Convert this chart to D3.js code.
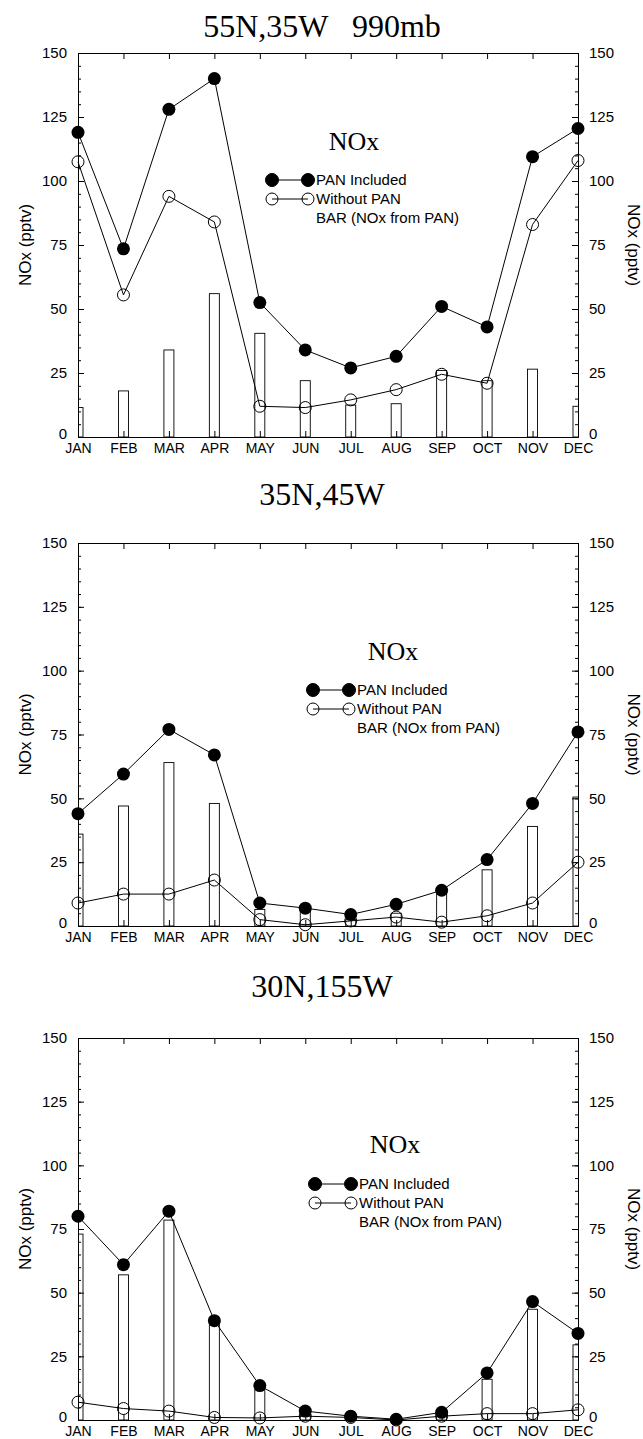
<!DOCTYPE html>
<html>
<head>
<meta charset="utf-8">
<script src="https://cdn.jsdelivr.net/npm/d3@7"></script>
<style>
  body { margin: 0; background: #fff; }
  svg { display: block; }
</style>
</head>
<body>
<div class="chart"></div>
<script>
var months = ["JAN","FEB","MAR","APR","MAY","JUN","JUL","AUG","SEP","OCT","NOV","DEC"];
var yTicks = [0, 25, 50, 75, 100, 125, 150];
var titles = ["55N,35W   990mb", "35N,45W", "30N,155W"];
var legendLabels = ["PAN Included", "Without PAN", "BAR (NOx from PAN)"];

// 55N,35W
var panIncluded1 = [119, 73.5, 128, 140, 52.5, 34, 27, 31.5, 51, 43, 109.5, 120.5];
var withoutPan1  = [107.5, 55.5, 94, 84, 12, 11.5, 14.5, 18.5, 24.5, 21, 83, 108];
var fromPan1     = [11.5, 18, 34, 56, 40.5, 22, 12.5, 13, 26, 22, 26.5, 12];

// 35N,45W
var panIncluded2 = [44, 59.5, 77, 67, 9, 7, 4.5, 8.5, 14, 26, 48, 76];
var withoutPan2  = [9, 12.5, 12.5, 18, 2.5, 0.5, 2, 3.5, 1.5, 4, 9, 25];
var fromPan2     = [36, 47, 64, 48, 6.5, 6.5, 2.5, 5, 12.5, 22, 39, 50.5];

// 30N,155W
var panIncluded3 = [80, 61, 82, 39, 13.5, 3.5, 1.5, 0.3, 3, 18.5, 46.5, 34];
var withoutPan3  = [7, 4.5, 3.5, 1, 0.8, 1.5, 1, 0, 1.5, 2.5, 2.5, 4];
var fromPan3     = [73, 57, 78.5, 38, 12, 2, 0.5, 0.3, 1.5, 16, 43.5, 29.5];

var series = [
  {pan: panIncluded1, without: withoutPan1, bar: fromPan1},
  {pan: panIncluded2, without: withoutPan2, bar: fromPan2},
  {pan: panIncluded3, without: withoutPan3, bar: fromPan3}
];

// layout of each panel
var panels = [
  {top: 53,   bottom: 437,  titleY: 37,  noxX: 354, noxY: 150,  legX: 272, legY: 180},
  {top: 543,  bottom: 926,  titleY: 505, noxX: 393, noxY: 660,  legX: 313, legY: 690},
  {top: 1038, bottom: 1420, titleY: 997, noxX: 395, noxY: 1153, legX: 315, legY: 1184}
];

var left = 78, right = 578;
var sans = "'Liberation Sans', Arial, sans-serif";
var serif = "'Liberation Serif', 'Times New Roman', serif";

var svg = d3.select(".chart")
  .append("svg")
  .attr("width", 643)
  .attr("height", 1439);

var x = d3.scalePoint().domain(months).range([left, right]);

function styleAxis(g, size){
  g.attr("font-family", sans).attr("font-size", size);
  g.selectAll("path, line").attr("stroke", "#000").attr("stroke-width", 1);
  g.selectAll("text").attr("fill", "#000");
}

function drawPanel(p, s, i){
  var y = d3.scaleLinear().domain([0, 150]).range([p.bottom, p.top]);
  var g = svg.append("g");

  g.append("text")
    .attr("x", 322).attr("y", p.titleY)
    .attr("text-anchor", "middle")
    .attr("font-family", serif).attr("font-size", 32)
    .style("white-space", "pre")
    .text(titles[i]);

  g.append("clipPath").attr("id", "clip" + i)
    .append("rect")
    .attr("x", left).attr("y", p.top)
    .attr("width", right - left).attr("height", p.bottom - p.top);

  // bars (NOx from PAN)
  var barW = 10;
  g.append("g").attr("clip-path", "url(#clip" + i + ")")
    .selectAll("rect")
    .data(s.bar)
    .enter()
    .append("rect")
      .attr("x", function(d, j){ return x(months[j]) - barW/2; })
      .attr("y", function(d){ return y(d); })
      .attr("width", barW)
      .attr("height", function(d){ return p.bottom - y(d); })
      .attr("fill", "none")
      .attr("stroke", "#000")
      .attr("stroke-width", 0.9);

  // axes
  var minor = d3.range(0, 151, 5);
  g.append("g").attr("transform", "translate(" + left + ",0)")
    .call(d3.axisLeft(y).tickValues(minor).tickSize(-3).tickSizeOuter(0).tickFormat(""))
    .call(styleAxis, 15);
  g.append("g").attr("transform", "translate(" + left + ",0)")
    .call(d3.axisLeft(y).tickValues(yTicks).tickSize(-6).tickSizeOuter(0).tickPadding(11))
    .call(styleAxis, 15)
    .selectAll("text").filter(function(d){ return d === 0; }).attr("dy", "0.1em");
  g.append("g").attr("transform", "translate(" + right + ",0)")
    .call(d3.axisRight(y).tickValues(minor).tickSize(-3).tickSizeOuter(0).tickFormat(""))
    .call(styleAxis, 15);
  g.append("g").attr("transform", "translate(" + right + ",0)")
    .call(d3.axisRight(y).tickValues(yTicks).tickSize(-6).tickSizeOuter(0).tickPadding(11))
    .call(styleAxis, 15)
    .selectAll("text").filter(function(d){ return d === 0; }).attr("dy", "0.1em");
  g.append("g").attr("transform", "translate(0," + p.bottom + ")")
    .call(d3.axisBottom(x).tickSize(-6).tickSizeOuter(0).tickPadding(6))
    .call(styleAxis, 14);
  g.append("g").attr("transform", "translate(0," + p.top + ")")
    .call(d3.axisTop(x).tickSize(-6).tickSizeOuter(0).tickFormat(""))
    .call(styleAxis, 14);

  var mid = (p.top + p.bottom) / 2;
  g.append("text")
    .attr("transform", "translate(31," + mid + ") rotate(-90)")
    .attr("text-anchor", "middle")
    .attr("font-family", sans).attr("font-size", 17)
    .text("NOx (pptv)");
  g.append("text")
    .attr("transform", "translate(628," + mid + ") rotate(90)")
    .attr("text-anchor", "middle")
    .attr("font-family", sans).attr("font-size", 17)
    .text("NOx (pptv)");

  // lines
  var line = d3.line()
    .x(function(d, j){ return x(months[j]); })
    .y(function(d){ return y(d); });

  [s.without, s.pan].forEach(function(vals){
    g.append("path")
      .datum(vals)
      .attr("d", line)
      .attr("fill", "none")
      .attr("stroke", "#000")
      .attr("stroke-width", 1);
  });

  g.selectAll("circle.open")
    .data(s.without)
    .enter()
    .append("circle")
      .attr("class", "open")
      .attr("cx", function(d, j){ return x(months[j]); })
      .attr("cy", function(d){ return y(d); })
      .attr("r", 6)
      .attr("fill", "none")
      .attr("stroke", "#000")
      .attr("stroke-width", 1);

  g.selectAll("circle.filled")
    .data(s.pan)
    .enter()
    .append("circle")
      .attr("class", "filled")
      .attr("cx", function(d, j){ return x(months[j]); })
      .attr("cy", function(d){ return y(d); })
      .attr("r", 6.5)
      .attr("fill", "#000");

  // legend
  g.append("text")
    .attr("x", p.noxX).attr("y", p.noxY)
    .attr("text-anchor", "middle")
    .attr("font-family", serif).attr("font-size", 26)
    .text("NOx");

  var gap = 36, rowH = 19;
  [0, 1].forEach(function(k){
    var ly = p.legY + k * rowH;
    g.append("line")
      .attr("x1", p.legX).attr("x2", p.legX + gap)
      .attr("y1", ly).attr("y2", ly)
      .attr("stroke", "#000").attr("stroke-width", 1);
    [p.legX, p.legX + gap].forEach(function(cx){
      g.append("circle")
        .attr("cx", cx).attr("cy", ly)
        .attr("r", k === 0 ? 6.5 : 6)
        .attr("fill", k === 0 ? "#000" : "none")
        .attr("stroke", "#000");
    });
  });
  legendLabels.forEach(function(t, k){
    g.append("text")
      .attr("x", p.legX + gap + 8)
      .attr("y", p.legY + k * rowH + 5)
      .attr("font-family", sans).attr("font-size", 15)
      .text(t);
  });
}

panels.forEach(function(p, i){
  drawPanel(p, series[i], i);
});
</script>
</body>
</html>
